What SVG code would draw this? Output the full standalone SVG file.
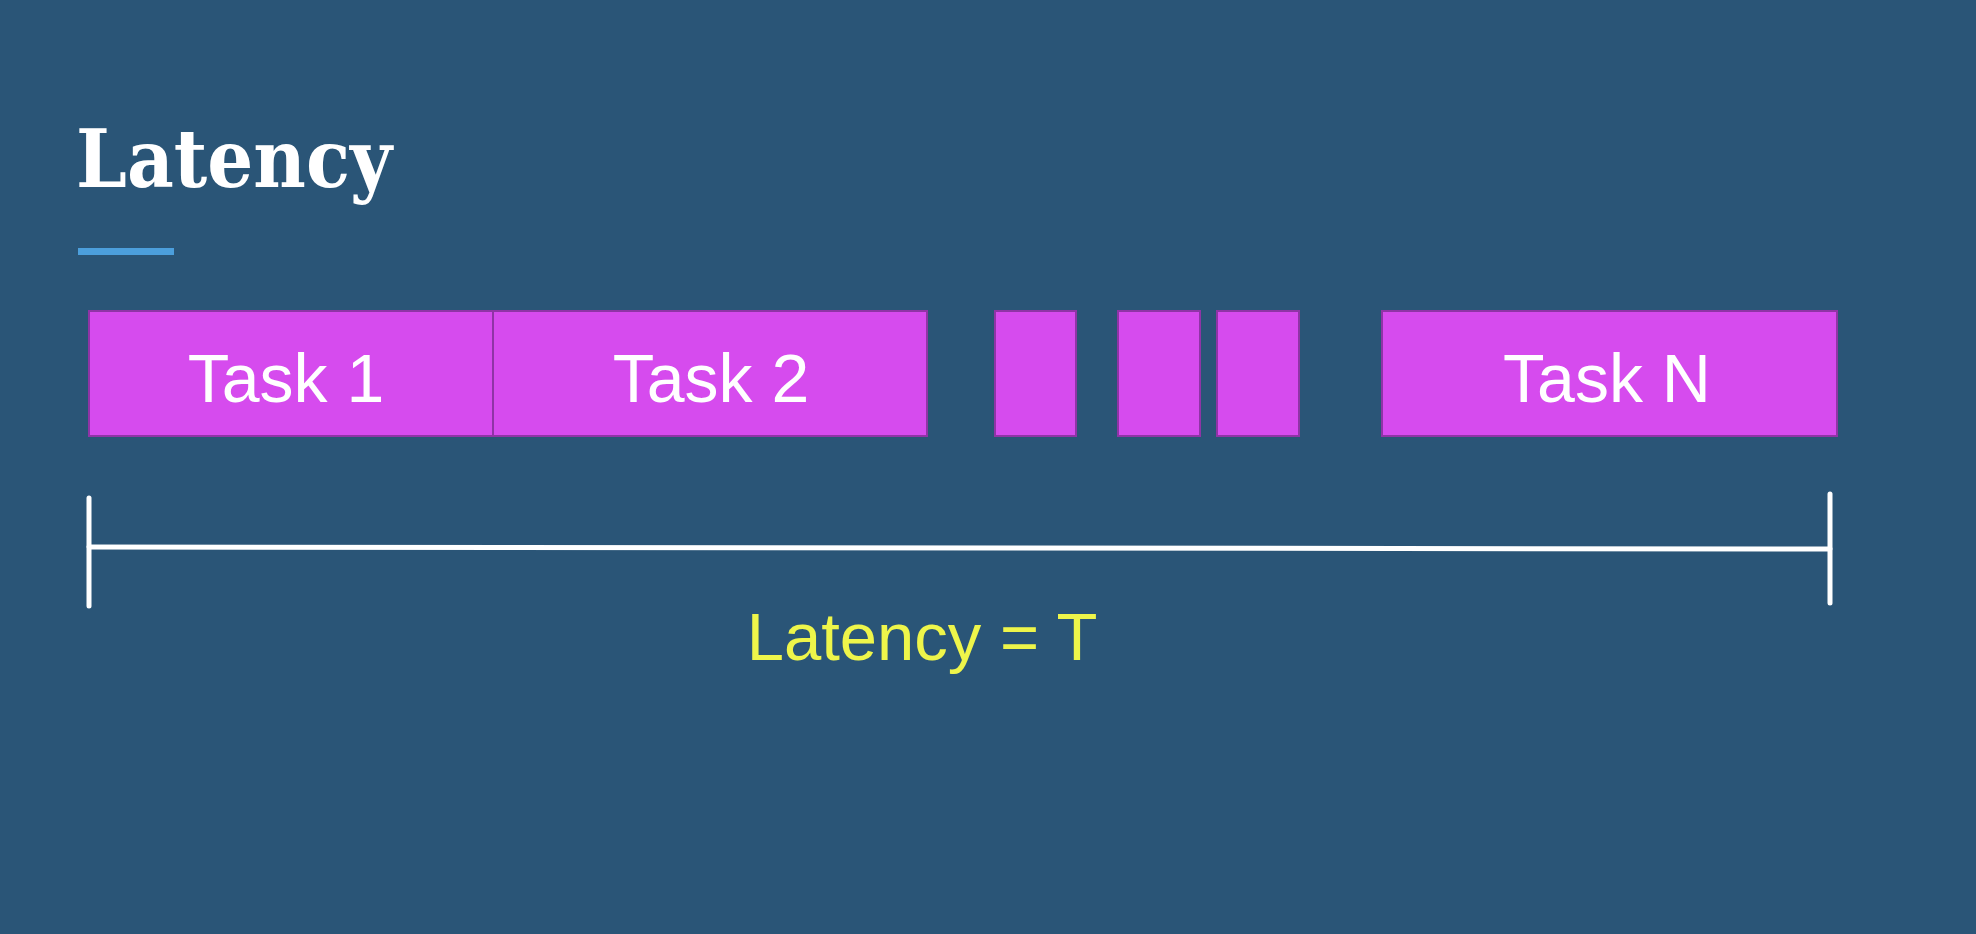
<svg xmlns="http://www.w3.org/2000/svg" width="1976" height="934" viewBox="0 0 1976 934">
<style>
.task{fill:#d64bee;stroke:#8f34a6;stroke-width:2}
.lbl{font-family:"Liberation Sans",Arial,sans-serif;font-size:68px;fill:#ffffff;text-anchor:middle}
.br{stroke:#ffffff;stroke-width:5;stroke-linecap:round;fill:none}
</style>
<rect width="1976" height="934" fill="#2a5577"/>
<text x="76" y="187" font-family="'DejaVu Serif',serif" font-weight="bold" font-size="80" fill="#ffffff" textLength="316" lengthAdjust="spacingAndGlyphs">Latency</text>
<rect x="78" y="248" width="96" height="7" fill="#4c9fdc"/>
<g id="task1"><rect class="task" x="89" y="311" width="404" height="125"/><text class="lbl" x="286" y="402">Task 1</text></g>
<g id="task2"><rect class="task" x="493" y="311" width="434" height="125"/><text class="lbl" x="711" y="402">Task 2</text></g>
<g id="task3"><rect class="task" x="995" y="311" width="81" height="125"/></g>
<g id="task4"><rect class="task" x="1118" y="311" width="82" height="125"/></g>
<g id="task5"><rect class="task" x="1217" y="311" width="82" height="125"/></g>
<g id="taskN"><rect class="task" x="1382" y="311" width="455" height="125"/><text class="lbl" x="1607" y="402">Task N</text></g>
<g id="connectors">
<line class="br" x1="89" y1="498" x2="89" y2="606"/>
<line class="br" x1="1830" y1="494" x2="1830" y2="603"/>
<line class="br" x1="89" y1="547" x2="1830" y2="549"/>
</g>
<text x="922" y="660" font-family="'Liberation Sans',Arial,sans-serif" font-size="67" fill="#eef54a" text-anchor="middle">Latency = T</text>
</svg>
